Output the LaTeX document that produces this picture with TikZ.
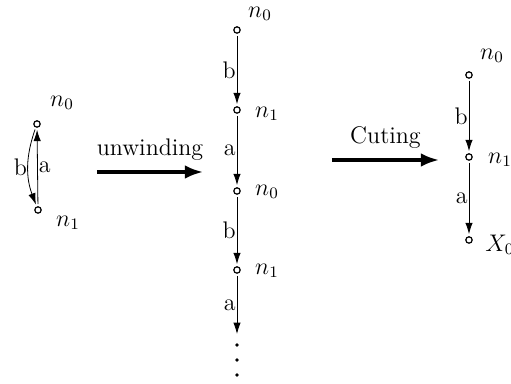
\documentclass[tikz,border=0pt]{standalone}
\usepackage{amsmath,amssymb}
\usetikzlibrary{arrows.meta,positioning}
\tikzset{
	vtx/.style={circle, draw=black, fill=white, inner sep=0pt, minimum size=3.2pt, line width=0.6pt},
	lbl/.style={font=\large, inner sep=1pt},
	edgarr/.style={-{Latex[length=2mm,width=1.3mm]}, line width=0.4pt, shorten >=1pt, shorten <=1pt},
	bigarr/.style={-{Latex[length=3.2mm,width=2.4mm]}, line width=1.6pt},
	dotpt/.style={circle, fill=black, inner sep=0pt, minimum size=1.8pt}
}
\begin{document}
\begin{tikzpicture}[x=0.5pt,y=-0.5pt,font=\large]
	\useasboundingbox (0,0) rectangle (511,384);
	% cycle
	\node[vtx] (c0) at (37,124) {};
	\node[vtx] (c1) at (38,210) {};
	\node[lbl] at (62,103) {$n_0$};
	\node[lbl] at (68,223) {$n_1$};
	\draw[edgarr] (c1) -- node[right, lbl, inner sep=0.5pt] {a} (c0);
	\draw[edgarr] (c0) to[bend right=20] node[left, lbl, inner sep=0.5pt] {b} (c1);
	% unwinding
	\coordinate (u1) at (97,172);
	\coordinate (u2) at (203,172);
	\draw[bigarr] (u1) -- node[above=4pt, lbl] {unwinding} (u2);
	% unwound path
	\node[vtx] (m0) at (237,30) {};
	\node[vtx] (m1) at (237,110) {};
	\node[vtx] (m2) at (237,191) {};
	\node[vtx] (m3) at (237,270) {};
	\coordinate (mend) at (237,336);
	\node[lbl] at (260,14) {$n_0$};
	\node[lbl] at (267,114) {$n_1$};
	\node[lbl] at (267,192) {$n_0$};
	\node[lbl] at (267,271) {$n_1$};
	\draw[edgarr] (m0) -- node[left, lbl, inner sep=0.5pt] {b} (m1);
	\draw[edgarr] (m1) -- node[left, lbl, inner sep=0.5pt] {a} (m2);
	\draw[edgarr] (m2) -- node[left, lbl, inner sep=0.5pt] {b} (m3);
	\draw[edgarr] (m3) -- node[left, lbl, inner sep=0.5pt] {a} (mend);
	\foreach \yy in {345,360,375}
		\node[dotpt] at (237,\yy) {};
	% cuting
	\coordinate (k1) at (332,160);
	\coordinate (k2) at (439,160);
	\draw[bigarr] (k1) -- node[above=4pt, lbl] {Cuting} (k2);
	% cut path
	\node[vtx] (r0) at (469,75) {};
	\node[vtx] (r1) at (469,157) {};
	\node[vtx] (r2) at (469,240) {};
	\node[lbl] at (492,56) {$n_0$};
	\node[lbl] at (500,160) {$n_1$};
	\node[lbl] at (500,245) {$X_0$};
	\draw[edgarr] (r0) -- node[left, lbl, inner sep=0.5pt] {b} (r1);
	\draw[edgarr] (r1) -- node[left, lbl, inner sep=0.5pt] {a} (r2);
\end{tikzpicture}
\end{document}
